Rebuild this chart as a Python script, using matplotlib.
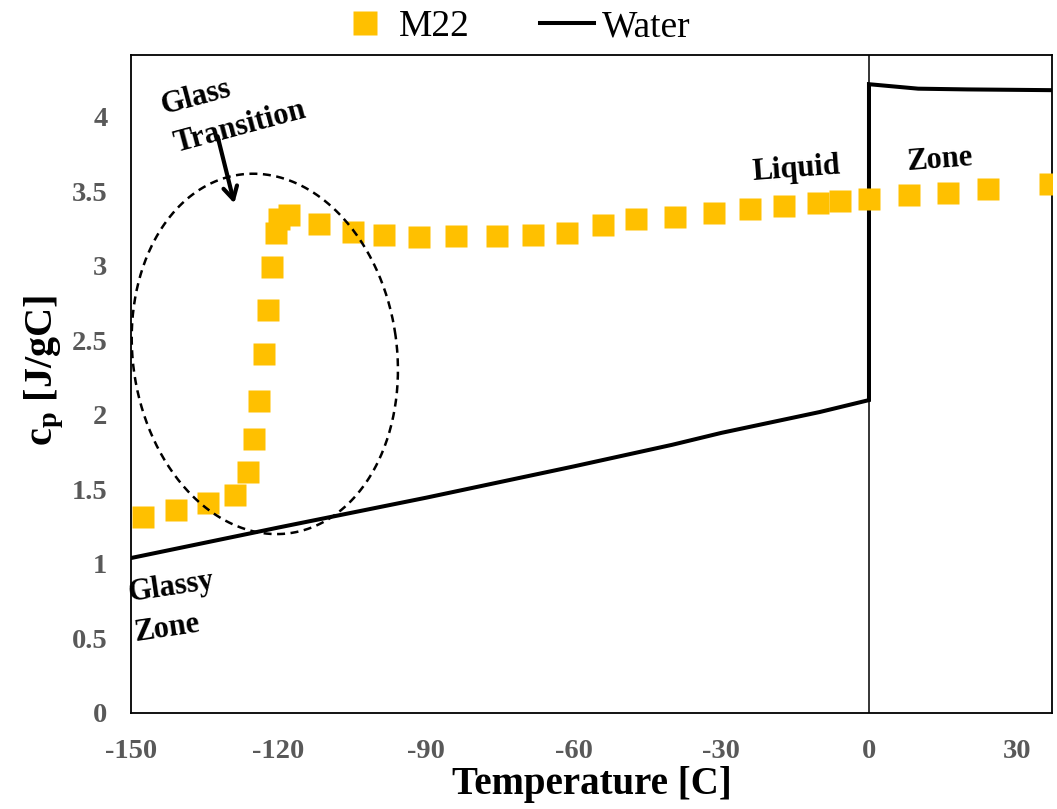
import numpy as np
import matplotlib
matplotlib.use("Agg")
import matplotlib.pyplot as plt

# ---- data ----
m22_temp = [-147.6, -140.9, -134.3, -128.9, -126.2, -125.0, -124.0, -123.0, -122.2,
            -121.4, -120.6, -120.0, -117.9, -111.8, -104.8, -98.6, -91.5, -84.0,
            -75.7, -68.3, -61.4, -54.1, -47.3, -39.4, -31.6, -24.1, -17.3, -10.3,
            -5.9, 0.1, 8.1, 16.1, 24.1, 36.8]
m22_cp = [1.317, 1.362, 1.407, 1.463, 1.615, 1.837, 2.096, 2.407, 2.703,
          2.995, 3.219, 3.315, 3.342, 3.280, 3.226, 3.206, 3.197, 3.201,
          3.201, 3.206, 3.224, 3.275, 3.315, 3.331, 3.354, 3.380, 3.400, 3.421,
          3.434, 3.448, 3.474, 3.492, 3.515, 3.548]

water_temp = [-150, -120, -90, -75, -60, -40, -30, -10, 0, 0, 10, 20, 37.2]
water_cp = [1.04, 1.245, 1.445, 1.55, 1.655, 1.80, 1.88, 2.02, 2.10, 4.22, 4.19, 4.185, 4.18]

x_ticks = [-150, -120, -90, -60, -30, 0, 30]
x_tick_labels = ["-150", "-120", "-90", "-60", "-30", "0", "30"]
y_ticks = [0, 0.5, 1, 1.5, 2, 2.5, 3, 3.5, 4]
y_tick_labels = ["0", "0.5", "1", "1.5", "2", "2.5", "3", "3.5", "4"]

# ---- style ----
plt.rcParams['font.family'] = ['Liberation Serif', 'DejaVu Serif']
plt.rcParams['font.weight'] = 'bold'
plt.rcParams['mathtext.fontset'] = 'custom'
plt.rcParams['mathtext.rm'] = 'Liberation Serif:bold'
plt.rcParams['mathtext.bf'] = 'Liberation Serif:bold'
plt.rcParams['mathtext.it'] = 'Liberation Serif:italic:bold'

gold = '#FFC000'
tick_gray = '#595959'

fig = plt.figure(figsize=(10.57, 8.09), dpi=100)
ax = fig.add_axes([131/1057, 1-713/809, (1052-131)/1057, (713-55)/809])

ax.axvline(0, color='black', lw=1.1, zorder=1)
ax.plot(water_temp, water_cp, color='black', lw=2.9, label='Water', zorder=2,
        solid_joinstyle='miter')
ax.plot(m22_temp, m22_cp, linestyle='none', marker='s', markersize=16.5,
        markerfacecolor=gold, markeredgecolor='none', label='M22', zorder=3)

ax.set_xlim(-150, 37.2)
ax.set_ylim(0, 4.416)
ax.set_xticks(x_ticks)
ax.set_xticklabels(x_tick_labels)
ax.set_yticks(y_ticks)
ax.set_yticklabels(y_tick_labels)
ax.tick_params(axis='both', length=0, labelsize=20.5, labelcolor=tick_gray)
ax.tick_params(axis='y', pad=17)
ax.tick_params(axis='x', pad=19)
for sp in ax.spines.values():
    sp.set_color('black')
    sp.set_linewidth(1.3)

ax.set_xlabel('Temperature [C]', fontsize=28, fontweight='bold', labelpad=1)
ax.set_ylabel(r'$\mathbf{c_p}$ [J/gC]', fontsize=29, fontweight='bold')
ax.yaxis.set_label_coords(-0.071, 0.52)

# ellipse around glass transition (annotation)
cT, ccp = -122.8, 2.41
a_px, b_px, phi = 132, 181, np.deg2rad(8)
t = np.linspace(0, 2*np.pi, 400)
u, v = a_px*np.cos(t), b_px*np.sin(t)
dx = u*np.cos(phi) - v*np.sin(phi)
dy = u*np.sin(phi) + v*np.cos(phi)
ax.plot(cT + dx/4.92, ccp + dy/149, color='black', lw=1.8,
        linestyle=(0, (3.2, 2.2)), zorder=4)

tkw = dict(fontsize=22, fontweight='bold', color='black', ha='center', va='center',
           rotation_mode='anchor', zorder=5)
ax.text(-136.8, 4.13, 'Glass', rotation=15, **tkw)
ax.text(-127.8, 3.93, 'Transition', rotation=15, **tkw)
ax.annotate('', xy=(-129.0, 3.42), xytext=(-132.4, 3.87),
            arrowprops=dict(arrowstyle='->,head_length=0.9,head_width=0.5',
                            lw=3, color='black', shrinkA=0, shrinkB=0))
ax.text(-14.8, 3.65, 'Liquid', rotation=4.3, **tkw)
ax.text(14.4, 3.71, 'Zone', rotation=4.3, **tkw)
ax.text(-141.9, 0.846, 'Glassy', rotation=8.5, **tkw)
ax.text(-142.7, 0.564, 'Zone', rotation=8.5, **tkw)

handles, labels = ax.get_legend_handles_labels()
order = [labels.index('M22'), labels.index('Water')]
leg = fig.legend([handles[i] for i in order], [labels[i] for i in order],
                 loc='center', bbox_to_anchor=(0.486, 1-27/809), ncol=2,
                 frameon=False, prop={'size': 27, 'weight': 'normal'},
                 handlelength=1.45, handletextpad=0.2,
                 columnspacing=1.85, borderaxespad=0)
leg.legend_handles[0].set_markersize(17)

fig.savefig('out.png', dpi=100)
